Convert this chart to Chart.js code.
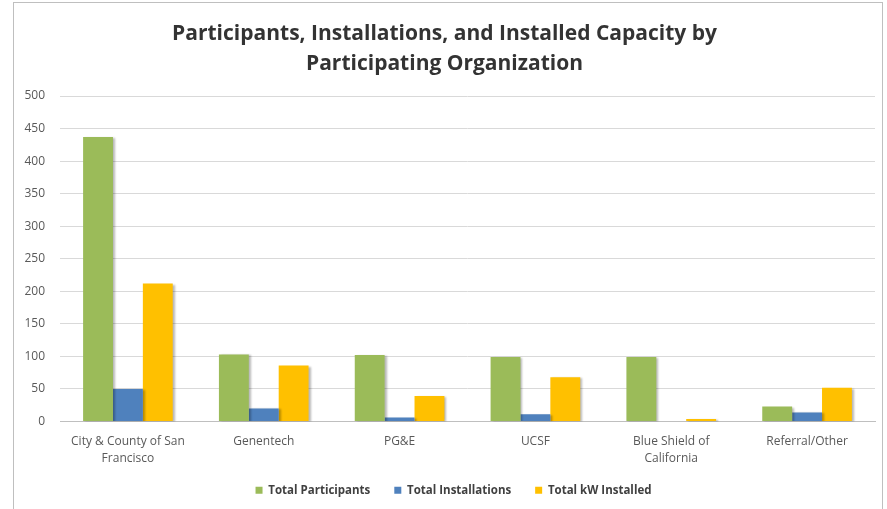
<!DOCTYPE html>
<html>
<head>
<meta charset="utf-8">
<script src="https://cdn.jsdelivr.net/npm/chart.js@4"></script>
<style>
  html, body { margin: 0; padding: 0; background: #fff; }
  #wrap { position: relative; width: 887px; height: 509px; }
  #frame { position: absolute; left: 13px; top: 2px; width: 870px; height: 520px;
           border: 1px solid #bfbfbf; box-sizing: border-box; pointer-events: none; }
  canvas { position: absolute; left: 0; top: 0; }
</style>
</head>
<body>
<div id="wrap">
  <canvas id="c" width="887" height="509"></canvas>
  <div id="frame"></div>
</div>
<script>
// Organizations taking part in the program
const organizations = [
  ['City & County of San', 'Francisco'],
  'Genentech',
  'PG&E',
  'UCSF',
  ['Blue Shield of', 'California'],
  'Referral/Other'
];

// Per-organization totals
const totalParticipants  = [437, 103, 102, 99, 99, 23];
const totalInstallations = [50, 20, 6, 11, 0, 14];
const totalKwInstalled   = [212, 86, 39, 68, 4, 52];

const yTicks = [0, 50, 100, 150, 200, 250, 300, 350, 400, 450, 500];

// Soft drop shadow behind the bars
const barShadow = {
  id: 'barShadow',
  beforeDatasetsDraw(chart) {
    const ctx = chart.ctx;
    ctx.save();
    ctx.shadowColor = 'rgba(0,0,0,0.28)';
    ctx.shadowBlur = 2;
    ctx.shadowOffsetX = 2;
    ctx.shadowOffsetY = 1;
  },
  afterDatasetsDraw(chart) {
    chart.ctx.restore();
  }
};

// Nudge the legend a little to the right, under the plot area
const legendNudge = {
  id: 'legendNudge',
  afterLayout(chart) {
    if (chart.legend) {
      chart.legend.left += 9;
      chart.legend.right += 9;
    }
  }
};

new Chart(document.getElementById('c'), {
  type: 'bar',
  data: {
    labels: organizations,
    datasets: [
      { label: 'Total Participants', data: totalParticipants, backgroundColor: '#9BBB59' },
      { label: 'Total Installations', data: totalInstallations, backgroundColor: '#4F81BD' },
      { label: 'Total kW Installed', data: totalKwInstalled, backgroundColor: '#FFC000' }
    ]
  },
  plugins: [barShadow, legendNudge],
  options: {
    responsive: false,
    animation: false,
    layout: { padding: { left: 14, right: 12, top: 0, bottom: 3 } },
    datasets: { bar: { categoryPercentage: 0.66, barPercentage: 1.0 } },
    plugins: {
      title: {
        display: true,
        text: ['Participants, Installations, and Installed Capacity by', 'Participating Organization'],
        color: '#333333',
        font: { family: 'Open Sans', size: 21, weight: 'bold', lineHeight: 1.43 },
        padding: { top: 19, bottom: 17 }
      },
      legend: {
        position: 'bottom',
        labels: {
          color: '#404040',
          font: { family: 'Open Sans', size: 11.5, weight: 'bold' },
          boxWidth: 7,
          boxHeight: 7,
          padding: 24
        }
      },
      tooltip: { enabled: false }
    },
    scales: {
      x: {
        afterFit(scale) {
          scale.height = 39;
          // let the two-line labels run below the axis box
          scale._computeLabelArea = () => undefined;
        },
        grid: { display: false, drawTicks: false },
        border: { color: '#bfbfbf' },
        ticks: {
          color: '#595959',
          font: { family: 'Open Sans', size: 12, lineHeight: 1.4 },
          padding: 12,
          maxRotation: 0,
          autoSkip: false
        }
      },
      y: {
        min: 0,
        max: 500,
        afterBuildTicks(scale) { scale.ticks = yTicks.map(v => ({ value: v })); },
        afterFit(scale) { scale.width = 46; },
        grid: { color: '#d9d9d9', drawTicks: false },
        border: { display: false },
        ticks: {
          color: '#595959',
          font: { family: 'Open Sans', size: 12 },
          padding: 15
        }
      }
    }
  }
});
</script>
</body>
</html>
